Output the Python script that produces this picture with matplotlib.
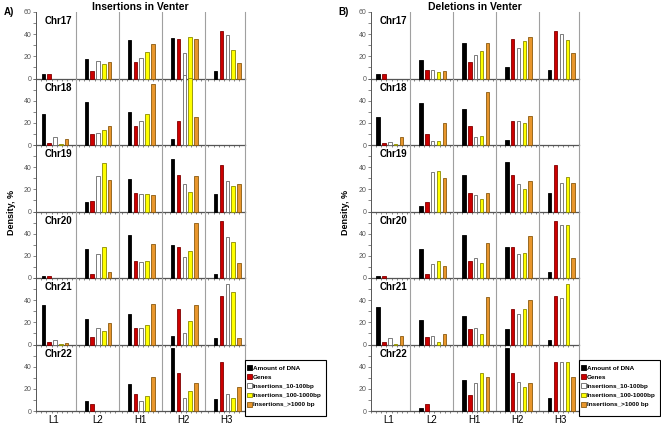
import numpy as np
import matplotlib
matplotlib.use("Agg")
import matplotlib.pyplot as plt
from matplotlib.patches import Patch, Rectangle

plt.rcParams["font.family"] = ["Liberation Sans", "DejaVu Sans"]

chroms = ["Chr17", "Chr18", "Chr19", "Chr20", "Chr21", "Chr22"]
groups = ["L1", "L2", "H1", "H2", "H3"]
series_labels = ["Amount of DNA", "Genes", "Insertions_10-100bp",
                 "Insertions_100-1000bp", "Insertions_>1000 bp"]

# Panel A: insertions, one row per chromosome, one value per group (L1..H3)
ins_dna = [[4.2, 17.4, 34.5, 36.6, 7.2],
           [28.3, 38.5, 29.8, 5.0, 0],
           [0, 8.2, 29.4, 47.3, 16.0],
           [2.0, 26.0, 39.0, 29.4, 4.0],
           [35.2, 23.2, 27.7, 7.8, 5.7],
           [0, 8.9, 24.6, 56.5, 10.4]]
ins_genes = [[4.0, 7.2, 14.7, 35.4, 42.6],
             [1.8, 10.2, 17.5, 21.8, 0],
             [0, 9.4, 16.7, 33.3, 42.1],
             [1.5, 4.0, 15.2, 28.2, 51.8],
             [2.4, 7.2, 14.7, 31.9, 43.6],
             [0, 6.5, 15.1, 34.4, 44.4]]
ins_small = [[0, 16.2, 18.3, 22.8, 39.0],
             [7.0, 11.0, 22.0, 63.0, 0],
             [0, 32.4, 16.0, 24.8, 27.6],
             [0, 22.0, 14.0, 19.0, 37.3],
             [4.5, 14.7, 14.7, 10.5, 54.7],
             [0, 0, 8.9, 12.1, 15.4]]
ins_mid = [[0, 12.9, 24.0, 37.8, 25.8],
           [1.0, 13.2, 28.3, 60.5, 0],
           [0, 44.2, 16.0, 17.3, 23.0],
           [0, 27.6, 15.2, 24.5, 32.7],
           [0.9, 12.3, 17.7, 21.4, 47.5],
           [0, 0, 13.9, 18.0, 12.1]]
ins_large = [[0, 15.0, 31.0, 35.4, 14.4],
             [5.0, 17.5, 54.8, 25.5, 0],
             [0, 28.2, 15.2, 31.8, 25.2],
             [0, 5.8, 31.0, 50.0, 13.6],
             [1.8, 19.0, 36.7, 35.2, 6.0],
             [0, 0, 30.8, 25.2, 21.3]]

# Panel B: deletions
del_dna = [[4.4, 16.3, 31.6, 10.0, 7.8],
           [25.0, 38.2, 32.1, 4.5, 0],
           [0, 5.4, 32.5, 44.8, 17.1],
           [1.5, 25.9, 39.1, 28.0, 5.1],
           [33.4, 22.0, 25.9, 13.8, 3.9],
           [0, 3.0, 27.7, 56.5, 12.0]]
del_genes = [[3.8, 7.5, 15.0, 36.0, 42.8],
             [1.8, 10.0, 17.0, 21.5, 0],
             [0, 9.0, 16.5, 33.1, 41.8],
             [1.5, 3.6, 15.0, 28.0, 51.7],
             [2.4, 6.9, 14.4, 31.9, 43.6],
             [0, 6.3, 14.7, 34.3, 44.5]]
del_small = [[0, 7.8, 21.3, 27.5, 40.0],
             [2.7, 3.3, 7.3, 21.8, 0],
             [0, 35.8, 15.3, 24.7, 25.3],
             [0, 12.3, 18.3, 21.4, 48.1],
             [6.3, 8.1, 15.3, 27.4, 42.1],
             [0, 0, 25.0, 25.9, 43.9]]
del_mid = [[0, 5.9, 24.4, 34.0, 34.7],
           [0.9, 3.6, 8.2, 20.3, 0],
           [0, 36.7, 11.4, 20.2, 31.3],
           [0, 15.0, 13.8, 22.9, 48.1],
           [0.9, 2.4, 9.3, 31.6, 55.0],
           [0, 0, 34.3, 22.0, 43.9]]
del_large = [[0, 6.9, 32.2, 37.8, 23.4],
             [7.6, 19.7, 47.6, 26.0, 0],
             [0, 30.4, 17.1, 27.4, 25.9],
             [0, 10.5, 31.9, 38.2, 18.3],
             [7.8, 9.6, 42.7, 39.7, 0],
             [0, 0, 30.7, 25.3, 30.7]]

face_colors = ["#000000", "#cc0000", "#ffffff", "#ffff00", "#e8962c"]
edge_colors = ["#000000", "#800000", "#666666", "#8a8a00", "#8a5a10"]

W, H = 661, 424
fig = plt.figure(figsize=(W / 100, H / 100), dpi=100)

row_top_px = 12
row_h_px = (411 - 12) / 6
bar_w = 0.08
offsets = (np.arange(5) - 2) * 0.136 + 0.02
x = np.arange(len(groups))


def draw_panel(left_px, right_px, series, title, letter, letter_x, ylab_x):
    for r, chrom in enumerate(chroms):
        y0 = H - (row_top_px + (r + 1) * row_h_px)
        ax = fig.add_axes([left_px / W, y0 / H, (right_px - left_px) / W, row_h_px / H])
        ax.patch.set_alpha(0)
        for k, vals in enumerate(series):
            row = np.array(vals[r], dtype=float)
            keep = row > 0
            ax.bar(x[keep] + offsets[k], row[keep], width=bar_w,
                   color=face_colors[k], edgecolor=edge_colors[k],
                   linewidth=0.6, clip_on=False, zorder=3)
        for b in range(4):
            ax.axvline(b + 0.5, color="#a0a0a0", lw=0.8, zorder=1)
        ax.set_xlim(-0.32, 4.43)
        ax.set_ylim(0, 60)
        ax.spines["top"].set_visible(False)
        ax.spines["right"].set_color("#a0a0a0")
        ax.spines["right"].set_linewidth(0.8)
        ax.spines["left"].set_color("#555555")
        ax.spines["left"].set_linewidth(0.7)
        ax.spines["bottom"].set_color("#555555")
        ax.spines["bottom"].set_linewidth(0.9)
        ax.set_yticks([0, 20, 40, 60])
        ax.set_yticks([10, 30, 50], minor=True)
        if r == 0:
            ax.set_yticklabels(["0", "20", "40", "60"])
        else:
            ax.set_yticklabels(["0", "20", "40", ""])
        ax.tick_params(axis="y", which="both", labelsize=5, colors="#555555",
                       length=2, width=0.5, pad=1.5)
        minor_x = np.concatenate([x + o for o in np.linspace(-0.42, 0.42, 8)])
        ax.set_xticks(minor_x, minor=True)
        ax.tick_params(axis="x", which="minor", length=1.5, width=0.5, colors="#555555")
        if r == len(chroms) - 1:
            ax.set_xticks(x)
            ax.set_xticklabels(groups, fontsize=7)
            ax.tick_params(axis="x", which="major", length=0, pad=3)
        else:
            ax.set_xticks([])
        ax.text(0.04, 0.86, chrom, transform=ax.transAxes, fontsize=7,
                fontweight="bold", ha="left", va="center")
        if r == 0:
            ax.set_title(title, fontsize=7.5, fontweight="bold", pad=1.5)

    fig.text(letter_x / W, 1 - 12 / H, letter, fontsize=7, fontweight="bold",
             ha="left", va="center")
    fig.text(ylab_x / W, 0.5, "Density, %", rotation=90, fontsize=6.5,
             fontweight="bold", ha="center", va="center")

    # legend box at the lower right of the panel
    box_l, box_r, box_t, box_b = right_px, right_px + 81, 360, 416
    fig.patches.append(Rectangle((box_l / W, 1 - box_b / H), (box_r - box_l) / W,
                                 (box_b - box_t) / H, transform=fig.transFigure,
                                 facecolor="white", edgecolor="black", lw=0.8))
    handles = [Patch(facecolor=face_colors[k], edgecolor=edge_colors[k], lw=0.6)
               for k in range(5)]
    fig.legend(handles, series_labels, loc="upper left",
               bbox_to_anchor=((box_l + 1.5) / W, 1 - (box_t + 5) / H),
               frameon=False, prop={"weight": "bold", "size": 4.6},
               handlelength=0.8, handleheight=0.8, handletextpad=0.15,
               labelspacing=0.55, borderpad=0, borderaxespad=0)


draw_panel(36, 245, [ins_dna, ins_genes, ins_small, ins_mid, ins_large],
           "Insertions in Venter", "A)", 4, 12)
draw_panel(371, 579, [del_dna, del_genes, del_small, del_mid, del_large],
           "Deletions in Venter", "B)", 338, 346)

fig.savefig("out.png", dpi=100)
